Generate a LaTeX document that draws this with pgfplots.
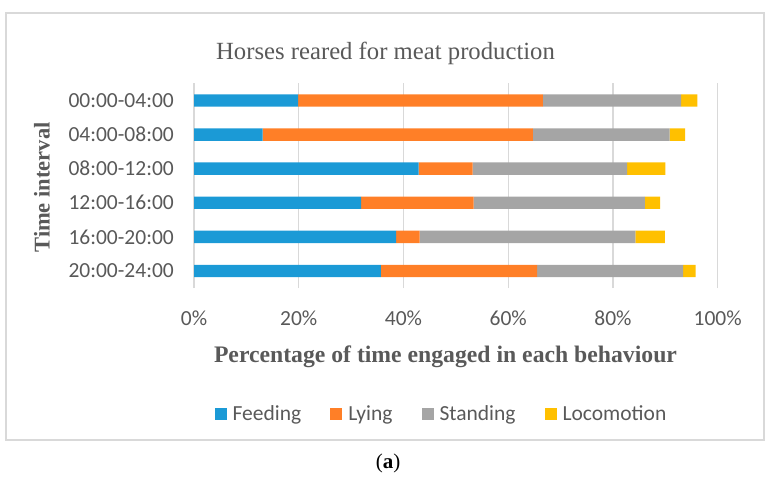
\documentclass[border=0pt]{standalone}
\usepackage{fontspec}
\setmainfont{Liberation Serif}
\newfontfamily\calib{Carlito}
\usepackage{pgfplots}
\pgfplotsset{compat=1.18}

\definecolor{cFeed}{HTML}{1B9AD6}
\definecolor{cLie}{HTML}{FF7F27}
\definecolor{cStand}{HTML}{A5A5A5}
\definecolor{cLoco}{HTML}{FFC000}
\definecolor{txtgray}{HTML}{595959}
\definecolor{gridgray}{HTML}{D9D9D9}

\begin{document}
\begin{tikzpicture}[x=1pt,y=1pt]
\useasboundingbox (0,0) rectangle (776,-478);
\draw[gridgray, line width=1.5pt] (6,-13) rectangle (764,-440);
\node[anchor=base, text=txtgray, font=\fontsize{24.7}{28}\selectfont] at (385.5,-60) {Horses reared for meat production};

\begin{axis}[
  at={(194pt,-288pt)}, anchor=south west,
  scale only axis, width=523.7pt, height=204.6pt,
  xbar stacked, bar width=12.4pt,
  xmin=0, xmax=100, ymin=0.5, ymax=6.5,
  xtick={0,20,...,100},
  xticklabels={0\%,20\%,40\%,60\%,80\%,100\%},
  ytick={1,2,3,4,5,6},
  yticklabels={20:00-24:00,16:00-20:00,12:00-16:00,08:00-12:00,04:00-08:00,00:00-04:00},
  xmajorgrids, grid style={gridgray, line width=1.3pt},
  axis line style={draw=none}, major tick length=0pt,
  tick label style={font=\calib\fontsize{21.5}{24}\selectfont, text=txtgray, inner sep=0pt},
  xticklabel style={anchor=base, yshift=-37pt},
  yticklabel style={anchor=east, xshift=-20pt},
  xlabel={Percentage of time engaged in each behaviour},
  ylabel={Time interval},
  every axis x label/.style={at={(axis description cs:0.4802,-0.3617)}, anchor=base,
    font=\bfseries\fontsize{23.7}{27}\selectfont, text=txtgray},
  every axis y label/.style={at={(axis description cs:-0.2759,0.4912)}, anchor=base, rotate=90,
    font=\bfseries\fontsize{22.5}{26}\selectfont, text=txtgray},
  legend image code/.code={\fill[#1] (0pt,-6pt) rectangle (12pt,6pt);},
  legend columns=4,
  legend style={at={(axis description cs:0.4707,-0.6158)}, anchor=center,
    draw=none, fill=none, font=\calib\fontsize{21.5}{24}\selectfont, text=txtgray,
    nodes={inner sep=0pt},
    /tikz/every odd column/.append style={column sep=6pt},
    /tikz/every even column/.append style={column sep=29pt}},
]
% Feeding
\addplot[fill=cFeed, draw=none] coordinates {(35.7,1) (38.6,2) (31.9,3) (42.9,4) (13.1,5) (19.9,6)};
% Lying
\addplot[fill=cLie, draw=none] coordinates {(29.8,1) (4.5,2) (21.5,3) (10.3,4) (51.6,5) (46.7,6)};
% Standing
\addplot[fill=cStand, draw=none] coordinates {(27.9,1) (41.2,2) (32.7,3) (29.5,4) (26.1,5) (26.4,6)};
% Locomotion
\addplot[fill=cLoco, draw=none] coordinates {(2.4,1) (5.6,2) (2.9,3) (7.3,4) (3.0,5) (3.1,6)};
\legend{Feeding, Lying, Standing, Locomotion}
\end{axis}

\node[anchor=base, font=\fontsize{21}{25}\selectfont] at (388,-468) {(\textbf{a})};
\end{tikzpicture}
\end{document}
